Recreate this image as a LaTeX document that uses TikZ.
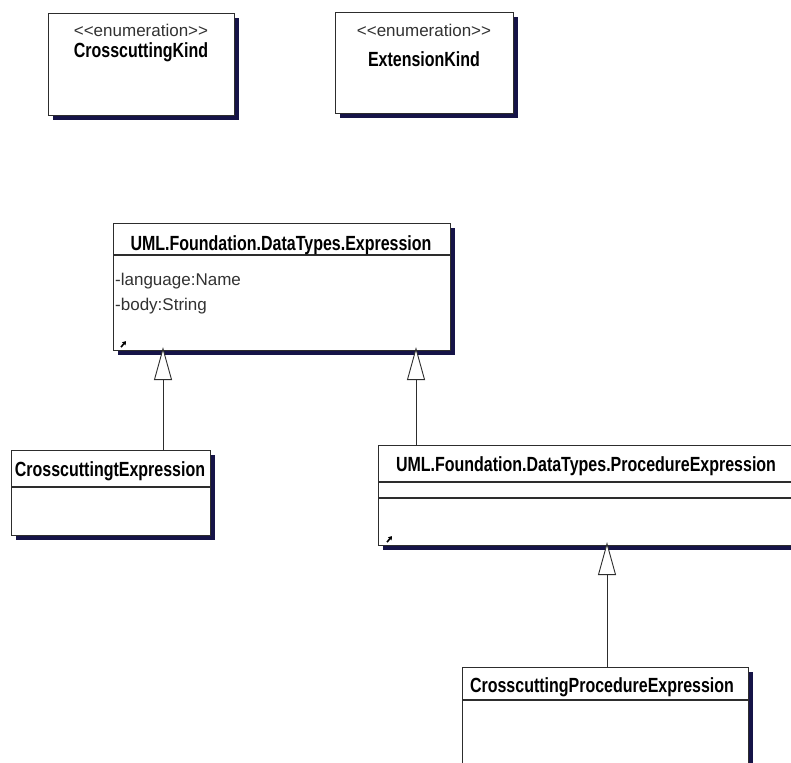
\documentclass[tikz,border=0pt]{standalone}
\usepackage{fontspec}
\setmainfont{Liberation Sans}
\newfontfamily\namefont[FakeStretch=0.78]{Liberation Sans Bold}
\usetikzlibrary{arrows.meta,calc,shadows}

\definecolor{boxline}{RGB}{45,45,45}
\definecolor{shadowblue}{RGB}{22,20,72}
\definecolor{stereogray}{RGB}{50,50,50}

\begin{document}
\begin{tikzpicture}[x=1pt,y=-1pt,
  classbox/.style={draw=boxline, line width=1.1pt, fill=white, inner sep=0pt,
    anchor=north west,
    copy shadow={shadow xshift=4pt, shadow yshift=-4pt, fill=shadowblue, draw=none}},
  compline/.style={draw=boxline, line width=1.1pt},
  classname/.style={font=\namefont\fontsize{20.5}{22}\selectfont, text=black,
    inner sep=0pt, anchor=base},
  stereo/.style={font=\fontsize{17}{19}\selectfont, text=stereogray,
    inner sep=0pt, anchor=base},
  attr/.style={font=\fontsize{17}{19}\selectfont, text=stereogray,
    inner sep=0pt, anchor=base west},
  gen/.style={draw=boxline, line width=0.9pt, shorten >=-4pt,
    -{Triangle[open, length=33pt, width=18pt, fill=white]}},
  icon/.style={line width=1.6pt, draw=black,
    -{Triangle[length=3.5pt, width=4.5pt]}}
]
\useasboundingbox (0,0) rectangle (791,762);
\fill[white] (0,0) rectangle (791,762);

% enumerations
\node[classbox, minimum width=186pt, minimum height=102pt] (ck) at (48,13) {};
\node[stereo] (ckst) at (141,37) {<{}<enumeration>{}>};
\node[classname] (ckname) at (141,58) {CrosscuttingKind};

\node[classbox, minimum width=178pt, minimum height=101pt] (ek) at (335,12) {};
\node[stereo] (ekst) at (424,37) {<{}<enumeration>{}>};
\node[classname] (ekname) at (424,67) {ExtensionKind};

% UML.Foundation.DataTypes.Expression
\node[classbox, minimum width=337pt, minimum height=127pt] (expr) at (113,223) {};
\draw[compline] ($(expr.north west)+(0,32)$) -- ($(expr.north east)+(0,32)$);
\node[classname] (exprname) at (281,250) {UML.Foundation.DataTypes.Expression};
\node[attr] (attr1) at (115,285) {-language:Name};
\node[attr] (attr2) at (115,310) {-body:String};
\draw[icon] ([shift={(8pt,4pt)}]expr.south west) -- ++(5,-6);

% CrosscuttingtExpression
\node[classbox, minimum width=199pt, minimum height=85pt] (ce) at (11,450) {};
\draw[compline] ($(ce.north west)+(0,37)$) -- ($(ce.north east)+(0,37)$);
\node[classname] (cename) at (110,476) {CrosscuttingtExpression};

% UML.Foundation.DataTypes.ProcedureExpression
\node[classbox, minimum width=418pt, minimum height=100pt] (pe) at (378,445) {};
\draw[compline] ($(pe.north west)+(0,37)$) -- ($(pe.north east)+(0,37)$);
\draw[compline] ($(pe.north west)+(0,53)$) -- ($(pe.north east)+(0,53)$);
\node[classname] (pename) at (586,471) {UML.Foundation.DataTypes.ProcedureExpression};
\draw[icon] ([shift={(9pt,4pt)}]pe.south west) -- ++(5,-6);

% CrosscuttingProcedureExpression
\node[classbox, minimum width=286pt, minimum height=99pt] (cpe) at (462,667) {};
\draw[compline] ($(cpe.north west)+(0,33)$) -- ($(cpe.north east)+(0,33)$);
\node[classname] (cpename) at (602,692) {CrosscuttingProcedureExpression};

% generalisations
\coordinate (g1) at ([xshift=152pt]ce.north west);
\coordinate (g2) at ([xshift=38pt]pe.north west);
\coordinate (g3) at ([xshift=145pt]cpe.north west);
\draw[gen] (g1) -- (g1 |- expr.south);
\draw[gen] (g2) -- (g2 |- expr.south);
\draw[gen] (g3) -- (g3 |- pe.south);
\end{tikzpicture}
\end{document}
